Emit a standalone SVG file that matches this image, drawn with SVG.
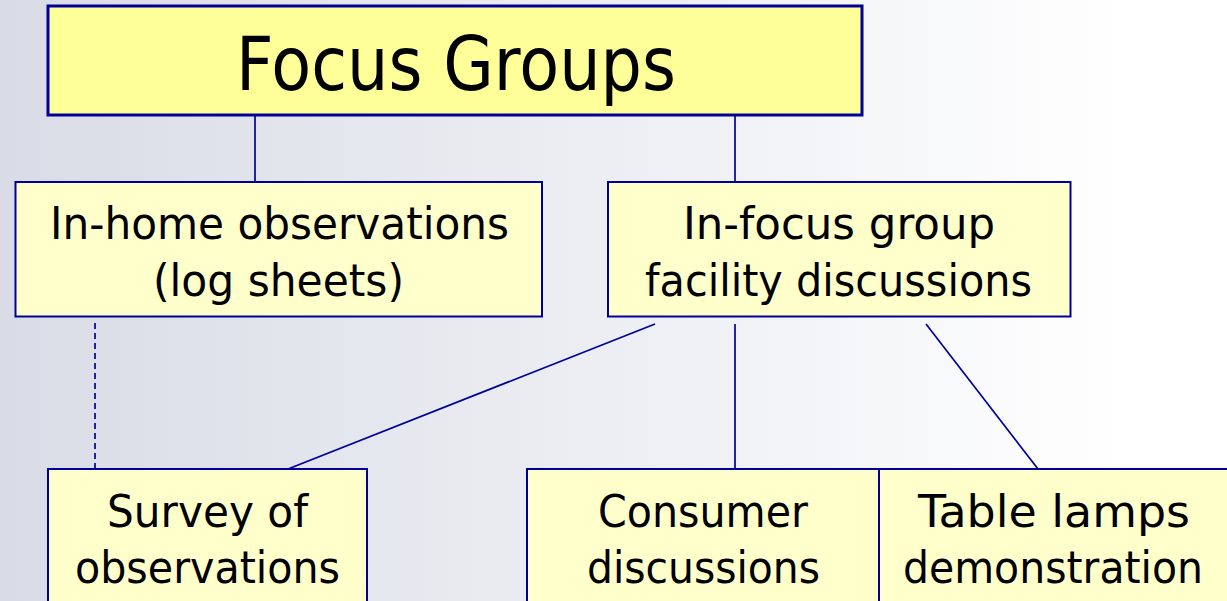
<svg xmlns="http://www.w3.org/2000/svg" width="1227" height="601" viewBox="0 0 1227 601">
  <defs>
    <linearGradient id="bg" x1="0" y1="0" x2="1" y2="0">
      <stop offset="0" stop-color="#d9dce6"/>
      <stop offset="0.6" stop-color="#f1f2f6"/>
      <stop offset="0.92" stop-color="#ffffff"/>
    </linearGradient>
  </defs>
  <style>
    .title { fill: #ffff99; stroke: #000099; stroke-width: 3; }
    .box { fill: #ffffcc; stroke: #000099; stroke-width: 2; }
    .lbl { font-family: "DejaVu Sans", Verdana, sans-serif; font-size: 45px; fill: #000; text-anchor: middle; }
    .big { font-family: "DejaVu Sans", Verdana, sans-serif; font-size: 75px; fill: #000; text-anchor: middle; }
    .link { fill: none; stroke: #000099; stroke-width: 1.7; }
    .dash { stroke-dasharray: 6 4; }
  </style>

  <rect width="1227" height="601" fill="url(#bg)"/>

  <g id="connectors">
    <line class="link" x1="255" y1="116" x2="255" y2="182"/>
    <line class="link" x1="735" y1="116" x2="735" y2="182"/>
    <line class="link dash" x1="95" y1="323" x2="95" y2="469"/>
    <line class="link" x1="655" y1="324" x2="288" y2="469"/>
    <line class="link" x1="735" y1="324" x2="735" y2="469"/>
    <line class="link" x1="926" y1="324" x2="1038" y2="469"/>
  </g>

  <g id="focus-groups">
    <rect class="title" x="48" y="6" width="814" height="109"/>
    <text class="big" x="456" y="90" textLength="440" lengthAdjust="spacingAndGlyphs">Focus Groups</text>
  </g>

  <g id="in-home">
    <rect class="box" x="15.5" y="182" width="526.5" height="134.5"/>
    <text class="lbl" x="279.5" y="239" textLength="459" lengthAdjust="spacingAndGlyphs">In-home observations</text>
    <text class="lbl" x="278.5" y="296" textLength="251" lengthAdjust="spacingAndGlyphs">(log sheets)</text>
  </g>

  <g id="in-focus">
    <rect class="box" x="608" y="182" width="462.5" height="134.5"/>
    <text class="lbl" x="839" y="239" textLength="312" lengthAdjust="spacingAndGlyphs">In-focus group</text>
    <text class="lbl" x="838.5" y="296" textLength="387" lengthAdjust="spacingAndGlyphs">facility discussions</text>
  </g>

  <g id="survey">
    <rect class="box" x="48" y="469" width="319" height="140"/>
    <text class="lbl" x="207.5" y="527" textLength="201" lengthAdjust="spacingAndGlyphs">Survey of</text>
    <text class="lbl" x="207.5" y="583" textLength="265" lengthAdjust="spacingAndGlyphs">observations</text>
  </g>

  <g id="consumer">
    <rect class="box" x="527" y="469" width="352" height="140"/>
    <text class="lbl" x="703" y="527" textLength="210" lengthAdjust="spacingAndGlyphs">Consumer</text>
    <text class="lbl" x="703.5" y="583" textLength="233" lengthAdjust="spacingAndGlyphs">discussions</text>
  </g>

  <g id="table-lamps">
    <rect class="box" x="879" y="469" width="352" height="140"/>
    <text class="lbl" x="1054" y="527" textLength="272" lengthAdjust="spacingAndGlyphs">Table lamps</text>
    <text class="lbl" x="1053" y="583" textLength="300" lengthAdjust="spacingAndGlyphs">demonstration</text>
  </g>
</svg>
